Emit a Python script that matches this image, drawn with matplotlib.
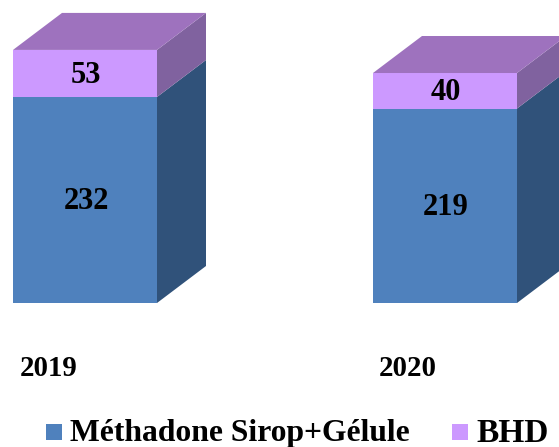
import matplotlib
matplotlib.use('Agg')
import matplotlib.pyplot as plt
from matplotlib.patches import Polygon, Rectangle

# data
years = ['2019', '2020']
methadone = [232, 219]
bhd = [53, 40]
label_meth = 'Méthadone Sirop+Gélule'
label_bhd = 'BHD'

# colours
BLUE = '#4F81BD'
BLUE_SIDE = '#30527A'
PURPLE = '#CC99FF'
PURPLE_SIDE = '#80629F'
PURPLE_TOP = '#9E72BE'

W, H = 559, 447
PX_X = 360.0          # px per category
PX_Y = 0.888          # px per value unit
X0, Y0 = 85.0, 303.0  # first bar centre / baseline in px (from top)
BAR_W = 144 / PX_X
DX = 49 / PX_X
DY = 37 / PX_Y
TXT_DY = 2 / PX_Y     # small nudge down for the value labels

plt.rcParams['font.family'] = ['Liberation Serif', 'DejaVu Serif']

fig = plt.figure(figsize=(W / 100, H / 100), dpi=100)
ax = fig.add_axes([0, 0, 1, 1])
ax.set_xlim(-X0 / PX_X, (W - X0) / PX_X)
ax.set_ylim(-(H - Y0) / PX_Y, Y0 / PX_Y)
ax.axis('off')


def box(x, bottom, height, front, side):
    l, r = x - BAR_W / 2, x + BAR_W / 2
    t = bottom + height
    ax.add_patch(Rectangle((l, bottom), BAR_W, height, fc=front, ec='none'))
    ax.add_patch(Polygon([(r, bottom), (r + DX, bottom + DY), (r + DX, t + DY), (r, t)],
                         fc=side, ec='none'))


for i, year in enumerate(years):
    m, b = methadone[i], bhd[i]
    box(i, 0, m, BLUE, BLUE_SIDE)
    box(i, m, b, PURPLE, PURPLE_SIDE)
    # couvercle
    l, r = i - BAR_W / 2, i + BAR_W / 2
    t = m + b
    ax.add_patch(Polygon([(l, t), (r, t), (r + DX, t + DY), (l + DX, t + DY)],
                         fc=PURPLE_TOP, ec='none'))
    ax.text(i + 1 / PX_X, m / 2 - TXT_DY, str(m), ha='center', va='center', fontsize=22,
            fontweight='bold', color='black')
    ax.text(i + 1 / PX_X, m + b / 2 - TXT_DY, str(b), ha='center', va='center', fontsize=22,
            fontweight='bold', color='black')
    ax.text(i - BAR_W / 2 + 7 / PX_X - (1 / PX_X) * i, (Y0 - 369) / PX_Y, year, ha='left', va='center',
            fontsize=20.8, fontweight='bold', color='black')

# legende
fig.patches.append(Rectangle((46 / W, 1 - 440 / H), 16 / W, 16 / H, fc=BLUE, ec='none',
                             transform=fig.transFigure))
fig.patches.append(Rectangle((452 / W, 1 - 440 / H), 16 / W, 16 / H, fc=PURPLE, ec='none',
                             transform=fig.transFigure))
fig.text(70 / W, 1 - 433 / H, label_meth, ha='left', va='center', fontsize=22.8, fontweight='bold')
fig.text(476 / W, 1 - 433 / H, label_bhd, ha='left', va='center', fontsize=24, fontweight='bold')

fig.savefig('out.png', dpi=100, facecolor='white')
